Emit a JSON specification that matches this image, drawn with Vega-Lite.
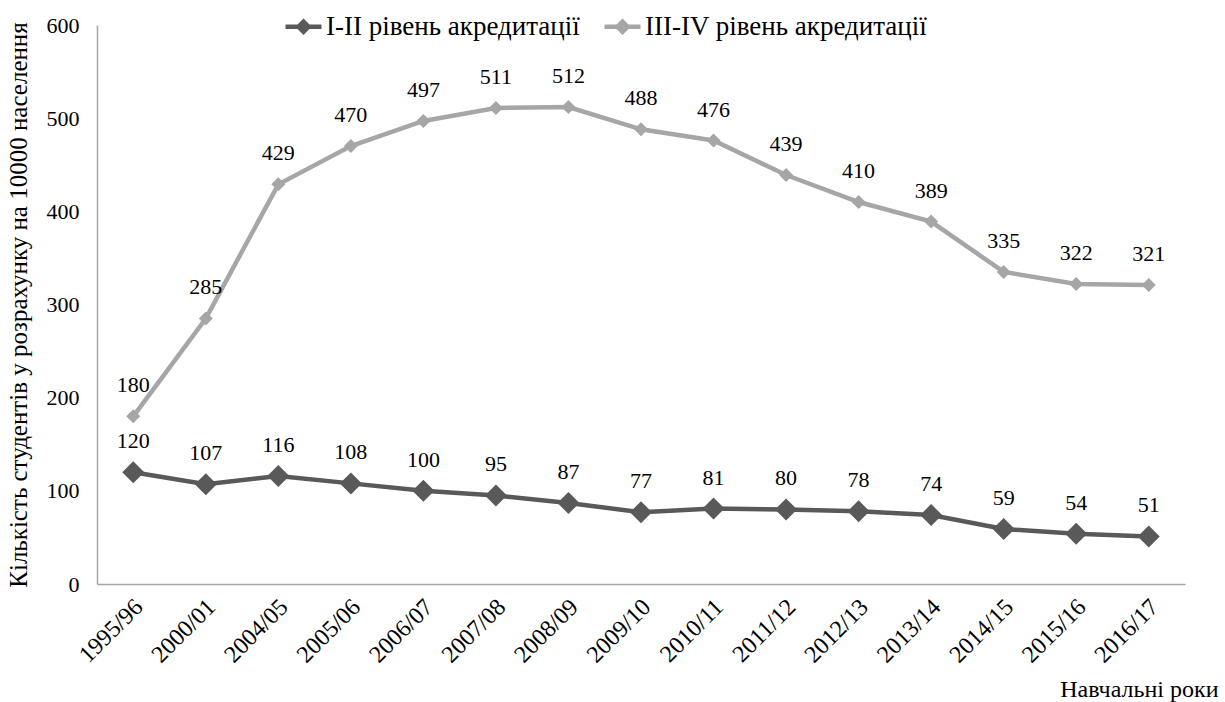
{
  "$schema": "https://vega.github.io/schema/vega-lite/v6.json",
  "autosize": {"type": "none"},
  "padding": {"left": 97, "top": 25, "right": 40, "bottom": 118},
  "width": 1088,
  "height": 559,
  "background": "white",
  "config": {
    "font": "Liberation Serif",
    "view": {"stroke": null},
    "axis": {"labelFont": "Liberation Serif", "titleFont": "Liberation Serif", "labelColor": "black", "titleColor": "black", "domainColor": "#a6a6a6", "domainWidth": 1.5, "ticks": false, "grid": false, "labelFontSize": 22, "titleFontSize": 24, "titleFontWeight": "normal"},
    "legend": {"labelFont": "Liberation Serif", "labelFontSize": 27, "labelColor": "black", "labelLimit": 0}
  },
  "data": {"values": [
    {"year": "1995/96", "series": "I-II рівень акредитації", "value": 120},
    {"year": "2000/01", "series": "I-II рівень акредитації", "value": 107},
    {"year": "2004/05", "series": "I-II рівень акредитації", "value": 116},
    {"year": "2005/06", "series": "I-II рівень акредитації", "value": 108},
    {"year": "2006/07", "series": "I-II рівень акредитації", "value": 100},
    {"year": "2007/08", "series": "I-II рівень акредитації", "value": 95},
    {"year": "2008/09", "series": "I-II рівень акредитації", "value": 87},
    {"year": "2009/10", "series": "I-II рівень акредитації", "value": 77},
    {"year": "2010/11", "series": "I-II рівень акредитації", "value": 81},
    {"year": "2011/12", "series": "I-II рівень акредитації", "value": 80},
    {"year": "2012/13", "series": "I-II рівень акредитації", "value": 78},
    {"year": "2013/14", "series": "I-II рівень акредитації", "value": 74},
    {"year": "2014/15", "series": "I-II рівень акредитації", "value": 59},
    {"year": "2015/16", "series": "I-II рівень акредитації", "value": 54},
    {"year": "2016/17", "series": "I-II рівень акредитації", "value": 51},
    {"year": "1995/96", "series": "III-IV рівень акредитації", "value": 180},
    {"year": "2000/01", "series": "III-IV рівень акредитації", "value": 285},
    {"year": "2004/05", "series": "III-IV рівень акредитації", "value": 429},
    {"year": "2005/06", "series": "III-IV рівень акредитації", "value": 470},
    {"year": "2006/07", "series": "III-IV рівень акредитації", "value": 497},
    {"year": "2007/08", "series": "III-IV рівень акредитації", "value": 511},
    {"year": "2008/09", "series": "III-IV рівень акредитації", "value": 512},
    {"year": "2009/10", "series": "III-IV рівень акредитації", "value": 488},
    {"year": "2010/11", "series": "III-IV рівень акредитації", "value": 476},
    {"year": "2011/12", "series": "III-IV рівень акредитації", "value": 439},
    {"year": "2012/13", "series": "III-IV рівень акредитації", "value": 410},
    {"year": "2013/14", "series": "III-IV рівень акредитації", "value": 389},
    {"year": "2014/15", "series": "III-IV рівень акредитації", "value": 335},
    {"year": "2015/16", "series": "III-IV рівень акредитації", "value": 322},
    {"year": "2016/17", "series": "III-IV рівень акредитації", "value": 321}
  ]},
  "encoding": {
    "x": {"field": "year", "type": "ordinal", "sort": null,
      "scale": {"type": "band", "paddingInner": 0, "paddingOuter": 0},
      "axis": {"title": "Навчальні роки", "labelAngle": -45, "labelAlign": "right", "labelBaseline": "middle", "labelPadding": 19, "labelOffset": 6, "labelFontSize": 24, "titleAnchor": "end", "titleAlign": "right", "titleX": 1121, "titleY": 112, "titleBaseline": "alphabetic"}},
    "y": {"field": "value", "type": "quantitative",
      "scale": {"domain": [0, 600], "nice": false},
      "axis": {"title": "Кількість студентів у розрахунку на 10000 населення", "titleFontSize": 25, "values": [0, 100, 200, 300, 400, 500, 600], "labelPadding": 18, "titlePadding": 15}},
    "color": {"field": "series", "type": "nominal",
      "scale": {"domain": ["I-II рівень акредитації", "III-IV рівень акредитації"], "range": ["#595959", "#a6a6a6"]},
      "legend": {"title": null, "orient": "none", "legendX": 186, "legendY": -19, "direction": "horizontal", "columnPadding": 15, "symbolType": "M-1,0L1,0M0,-0.28L0.28,0L0,0.28L-0.28,0Z", "symbolSize": 1296, "symbolStrokeWidth": 4.5, "symbolOffset": 0, "labelOffset": 2}}
  },
  "layer": [
    {"mark": {"type": "line", "strokeWidth": 4.5}, "encoding": {}},
    {"transform": [{"filter": "datum.series == 'I-II рівень акредитації'"}],
      "mark": {"type": "point", "shape": "diamond", "filled": true, "opacity": 1, "size": 484}, "encoding": {}},
    {"transform": [{"filter": "datum.series == 'III-IV рівень акредитації'"}],
      "mark": {"type": "point", "shape": "diamond", "filled": true, "opacity": 1, "size": 196}, "encoding": {}},
    {"mark": {"type": "text", "dy": -31, "fontSize": 22, "font": "Liberation Serif", "color": "black"},
      "encoding": {"text": {"field": "value", "type": "quantitative"}, "color": {"value": "black"}}}
  ]
}
